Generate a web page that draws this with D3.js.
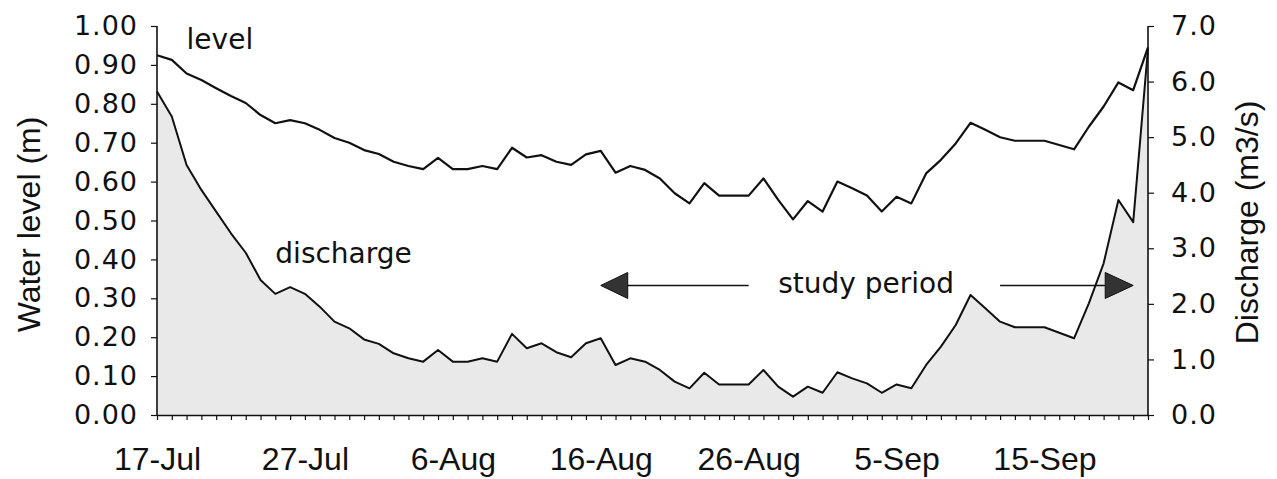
<!DOCTYPE html>
<html>
<head>
<meta charset="utf-8">
<script src="https://cdn.jsdelivr.net/npm/d3@7"></script>
<style>
  body { margin: 0; background: #fff; }
  .d3SVG { display: block; }
  .tickText { font-family: 'DejaVu Sans', sans-serif; font-size: 27px; letter-spacing: 1px; fill: #111; }
  .dateText { font-family: 'Liberation Sans', Arial, sans-serif; font-size: 32px; fill: #111; }
  .titleText { font-family: 'Liberation Sans', Arial, sans-serif; font-size: 32px; fill: #111; }
  .noteText { font-family: 'DejaVu Sans', sans-serif; font-size: 28px; fill: #111; }
</style>
</head>
<body>
<svg class="d3SVG"></svg>
<script>
// one value per day, 17-Jul .. 22-Sep
var startDay = new Date(2000, 6, 17)
var level = [0.925, 0.913, 0.878, 0.861, 0.840, 0.820, 0.802, 0.771, 0.750, 0.758,
  0.750, 0.733, 0.712, 0.700, 0.681, 0.671, 0.651, 0.640, 0.632, 0.661,
  0.632, 0.632, 0.640, 0.632, 0.687, 0.662, 0.668, 0.651, 0.643, 0.670,
  0.679, 0.623, 0.640, 0.630, 0.608, 0.570, 0.544, 0.596, 0.564, 0.564,
  0.564, 0.608, 0.553, 0.503, 0.550, 0.523, 0.600, 0.583, 0.564, 0.523,
  0.561, 0.544, 0.621, 0.656, 0.698, 0.751, 0.733, 0.714, 0.705, 0.705,
  0.705, 0.694, 0.683, 0.741, 0.793, 0.855, 0.835, 0.945]
var discharge = [5.82, 5.37, 4.50, 4.05, 3.66, 3.27, 2.92, 2.43, 2.18, 2.30,
  2.18, 1.95, 1.68, 1.56, 1.36, 1.28, 1.11, 1.02, 0.96, 1.17,
  0.96, 0.96, 1.02, 0.96, 1.46, 1.20, 1.29, 1.13, 1.04, 1.29,
  1.38, 0.90, 1.02, 0.96, 0.81, 0.60, 0.48, 0.76, 0.55, 0.55,
  0.55, 0.81, 0.51, 0.33, 0.51, 0.40, 0.77, 0.66, 0.57, 0.40,
  0.55, 0.48, 0.90, 1.23, 1.62, 2.16, 1.92, 1.68, 1.58, 1.58,
  1.58, 1.48, 1.38, 2.01, 2.73, 3.87, 3.47, 6.60]
var levelTicks = [0, 0.1, 0.2, 0.3, 0.4, 0.5, 0.6, 0.7, 0.8, 0.9, 1.0]
var dischargeTicks = [0, 1, 2, 3, 4, 5, 6, 7]
var dateLabelStep = 10
// study period arrows: from / to (day index), height on level axis
var studyFrom = 30
var studyTo = 66.8
var studyAt = 0.333

var width = 1277
var height = 479
var plotLeft = 157
var plotRight = 1148
var plotTop = 26
var plotBottom = 415

var days = level.map((d, i) => d3.timeDay.offset(startDay, i))
var lastDay = days[days.length - 1]

var svg = d3.select('.d3SVG')
  .attr('width', width)
  .attr('height', height)

var xScale = d3.scaleTime()
  .domain([startDay, lastDay])
  .range([plotLeft, plotRight])
var yLeft = d3.scaleLinear()
  .domain([0, 1])
  .range([plotBottom, plotTop])
var yRight = d3.scaleLinear()
  .domain([0, 7])
  .range([plotBottom, plotTop])
var dayX = (i) => xScale(d3.timeDay.offset(startDay, i))

// discharge area (stippled grey) and line
var area = d3.area()
  .x((d, i) => xScale(days[i]))
  .y0(plotBottom)
  .y1((d) => yRight(d))
svg.append('path')
  .datum(discharge)
  .attr('d', area)
  .style('fill', '#e9e9e9')

var dLine = d3.line()
  .x((d, i) => xScale(days[i]))
  .y((d) => yRight(d))
svg.append('path')
  .datum(discharge)
  .attr('d', dLine)
  .style('fill', 'none')
  .style('stroke', '#111')
  .style('stroke-width', 2)
  .style('stroke-linejoin', 'round')

var lLine = d3.line()
  .x((d, i) => xScale(days[i]))
  .y((d) => yLeft(d))
svg.append('path')
  .datum(level)
  .attr('d', lLine)
  .style('fill', 'none')
  .style('stroke', '#111')
  .style('stroke-width', 2.2)
  .style('stroke-linejoin', 'round')

// axes
var leftAxis = svg.append('g')
  .attr('transform', 'translate(' + plotLeft + ',0)')
  .call(d3.axisLeft(yLeft).tickValues(levelTicks).tickFormat(d3.format('.2f'))
    .tickSize(6).tickSizeOuter(0).tickPadding(13))
var rightAxis = svg.append('g')
  .attr('transform', 'translate(' + plotRight + ',0)')
  .call(d3.axisRight(yRight).tickValues(dischargeTicks).tickFormat(d3.format('.1f'))
    .tickSize(6).tickSizeOuter(0).tickPadding(17))
var dayAxis = svg.append('g')
  .attr('transform', 'translate(0,' + plotBottom + ')')
  .call(d3.axisBottom(xScale).ticks(d3.timeDay.every(1)).tickFormat('')
    .tickSize(5).tickSizeOuter(0))
var labelDays = days.filter((d, i) => i % dateLabelStep === 0)
var labelAxis = svg.append('g')
  .attr('transform', 'translate(0,' + plotBottom + ')')
  .call(d3.axisBottom(xScale).tickValues(labelDays).tickFormat(d3.timeFormat('%-d-%b'))
    .tickSize(0).tickSizeOuter(0).tickPadding(32))
labelAxis.select('.domain').remove()

leftAxis.selectAll('text').classed('tickText', true).attr('font-size', null).attr('font-family', null)
rightAxis.selectAll('text').classed('tickText', true).attr('font-size', null).attr('font-family', null)
labelAxis.selectAll('text').classed('dateText', true).attr('font-size', null).attr('font-family', null)
svg.selectAll('.domain').style('stroke', '#111').style('stroke-width', 1.6)
svg.selectAll('.tick line').style('stroke', '#111').style('stroke-width', 1.2)
leftAxis.select('.domain').attr('d', 'M0,' + plotBottom + 'V' + plotTop)
rightAxis.select('.domain').attr('d', 'M0,' + plotBottom + 'V' + plotTop)

// axis titles
svg.append('text')
  .classed('titleText', true)
  .attr('transform', 'translate(40,' + ((plotTop + plotBottom) / 2 + 4) + ') rotate(-90)')
  .style('text-anchor', 'middle')
  .text('Water level (m)')
svg.append('text')
  .classed('titleText', true)
  .attr('transform', 'translate(1258,' + ((plotTop + plotBottom) / 2 + 2) + ') rotate(-90)')
  .style('text-anchor', 'middle')
  .text('Discharge (m3/s)')

// labels on the chart
svg.append('text')
  .classed('noteText', true)
  .attr('x', dayX(2.85))
  .attr('y', yLeft(0.94))
  .text('level')
svg.append('text')
  .classed('noteText', true)
  .attr('x', dayX(8.1))
  .attr('y', yLeft(0.39))
  .text('discharge')
svg.append('text')
  .classed('noteText', true)
  .attr('x', dayX(42.2))
  .attr('y', yLeft(studyAt) + 8)
  .text('study period')

// study period arrows
var ay = yLeft(studyAt)
var tipL = dayX(studyFrom)
var tipR = dayX(studyTo)
svg.append('line')
  .attr('x1', tipL + 20).attr('x2', dayX(40.6))
  .attr('y1', ay).attr('y2', ay)
  .style('stroke', '#111').style('stroke-width', 1.5)
svg.append('line')
  .attr('x1', dayX(57.2)).attr('x2', tipR - 20)
  .attr('y1', ay).attr('y2', ay)
  .style('stroke', '#111').style('stroke-width', 1.5)
svg.append('polygon')
  .attr('points', [[tipL, ay], [tipL + 27, ay - 13], [tipL + 27, ay + 13]].join(' '))
  .style('fill', '#333').style('stroke', '#111')
svg.append('polygon')
  .attr('points', [[tipR, ay], [tipR - 28, ay - 13], [tipR - 28, ay + 13]].join(' '))
  .style('fill', '#333').style('stroke', '#111')
</script>
</body>
</html>
